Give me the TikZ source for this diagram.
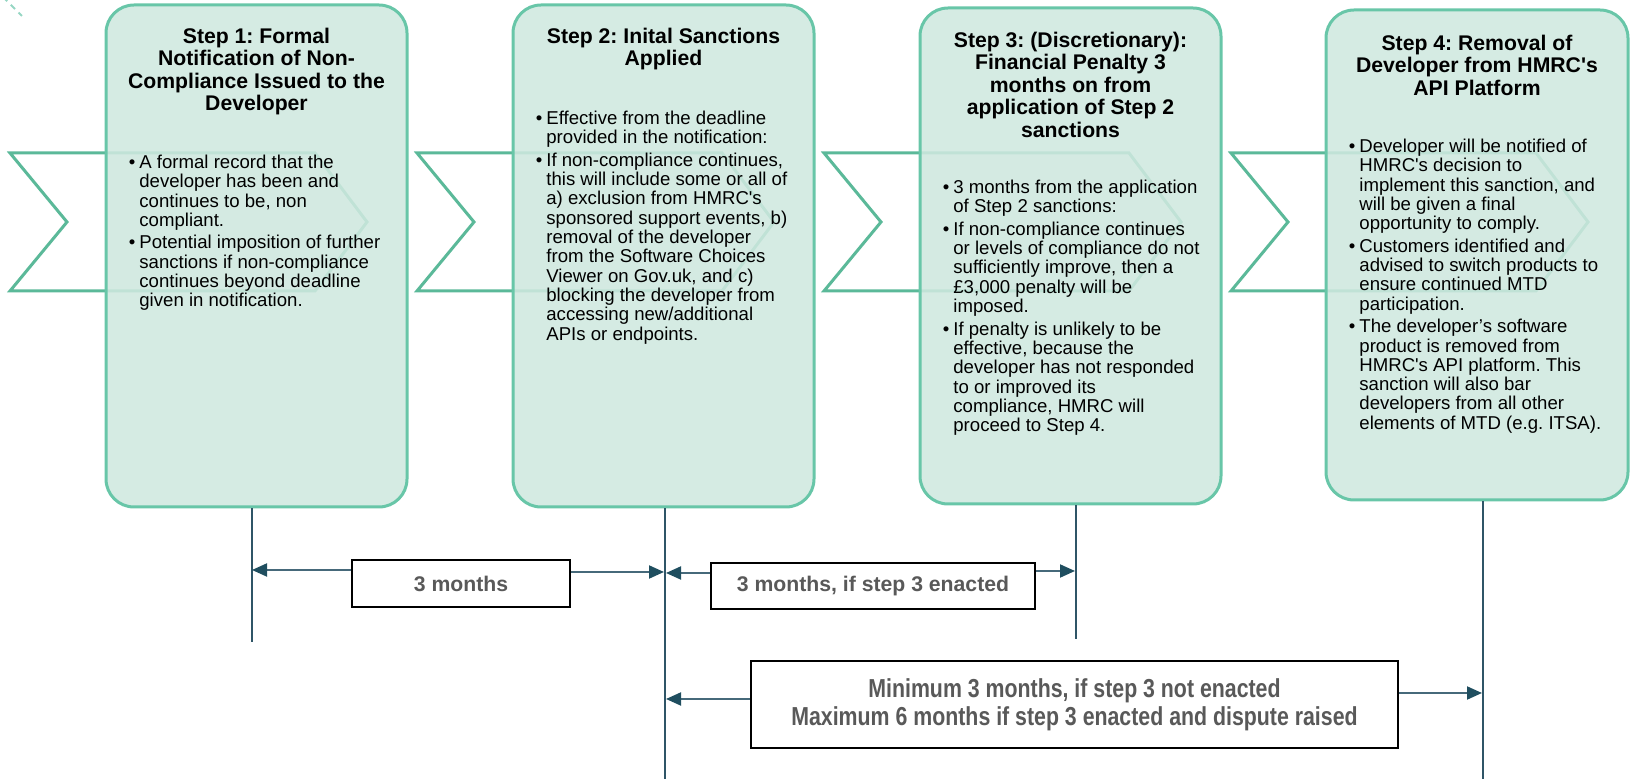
\documentclass[tikz,border=0pt]{standalone}
\usepackage{fontspec}
\setmainfont{Liberation Sans}
\newfontfamily\narrowfont[FakeStretch=0.82]{Liberation Sans}
\usetikzlibrary{arrows.meta,calc}
\definecolor{teal1}{RGB}{91,185,153}
\definecolor{tealb}{RGB}{104,198,168}
\definecolor{tealdash}{RGB}{150,214,195}
\definecolor{mintf}{RGB}{207,232,223}
\definecolor{navy}{RGB}{31,78,95}
\definecolor{shaft}{RGB}{70,105,122}
\definecolor{vline}{RGB}{47,85,103}
\definecolor{lblgray}{RGB}{89,89,89}
\newcommand\bul{\llap{•\hspace{2pt}}}
\newcommand\sq{\textquotesingle}
\begin{document}
\frenchspacing
\begin{tikzpicture}[x=0.5pt,y=-0.5pt,
  chev/.style={draw=teal1,line width=1.5pt,fill=white,line join=miter},
  stepbox/.style={draw=tealb,line width=1.5pt,fill=mintf,fill opacity=0.88,draw opacity=1,rounded corners=14pt,minimum width=150.5pt,inner sep=0pt},
  ttl/.style={anchor=north,inner sep=0pt,align=center,font=\fontsize{10.6pt}{11.25pt}\selectfont\bfseries\frenchspacing},
  bdy/.style={anchor=north west,inner sep=0pt,align=left,font=\fontsize{9.3pt}{9.65pt}\selectfont\frenchspacing},
  vl/.style={draw=vline,line width=0.8pt},
  arr/.style={draw=shaft,line width=1pt,-{Triangle[length=7.5pt,width=6.5pt,color=navy]}},
  lbl/.style={draw=black,line width=1.1pt,fill=white,inner sep=0pt,text=lblgray,font=\fontsize{10.6pt}{12pt}\selectfont\bfseries\frenchspacing},
]
\useasboundingbox (0,0) rectangle (1630,779);

% faint dashes top-left
\draw[tealdash,line width=1pt,dash pattern=on 3pt off 2.5pt] (3,-3) -- (22,16);

% chevrons
\foreach \sx in {10,417,824,1231}{
  \draw[chev] (\sx,153) -- (\sx+305,153) -- (\sx+357,222) -- (\sx+305,291) -- (\sx,291) -- (\sx+57,222) -- cycle;
}

% step boxes
\node[stepbox,minimum height=251pt] (b1) at (256.5,256) {};
\node[stepbox,minimum height=251pt] (b2) at (663.5,256) {};
\node[stepbox,minimum height=248pt] (b3) at (1070.5,256) {};
\node[stepbox,minimum width=151pt,minimum height=245pt] (b4) at (1477,255) {};

% titles
\node[ttl] (t1) at (256.5,27.25) {\strut Step 1: Formal\\Notification of Non-\\Compliance Issued to the\\Developer};
\node[ttl] (t2) at (663.5,27.25) {\strut Step 2: Inital Sanctions\\Applied};
\node[ttl] (t3) at (1070.5,31.25) {\strut Step 3: (Discretionary):\\Financial Penalty 3\\months on from\\application of Step 2\\sanctions};
\node[ttl] (t4) at (1477,34.25) {\strut Step 4: Removal of\\Developer from HMRC\sq s\\API Platform};

% bodies
\node[bdy] (d1) at (139,154.5) {\strut\bul A formal record that the\\developer has been and\\continues to be, non\\compliant.\\[1.65pt]
\bul Potential imposition of further\\sanctions if non-compliance\\continues beyond deadline\\given in notification.};
\node[bdy] (d2) at (546,110.5) {\strut\bul Effective from the deadline\\provided in the notification:\\[1.65pt]
\bul If non-compliance continues,\\this will include some or all of\\a) exclusion from HMRC\sq s\\sponsored support events, b)\\removal of the developer\\from the Software Choices\\Viewer on Gov.uk, and c)\\blocking the developer from\\accessing new/additional\\APIs or endpoints.};
\node[bdy] (d3) at (953,179.5) {\strut\bul 3 months from the application\\of Step 2 sanctions:\\[1.65pt]
\bul If non-compliance continues\\or levels of compliance do not\\sufficiently improve, then a\\£3,000 penalty will be\\imposed.\\[1.65pt]
\bul If penalty is unlikely to be\\effective, because the\\developer has not responded\\to or improved its\\compliance, HMRC will\\proceed to Step 4.};
\node[bdy] (d4) at (1359,138.5) {\strut\bul Developer will be notified of\\HMRC\sq s decision to\\implement this sanction, and\\will be given a final\\opportunity to comply.\\[1.65pt]
\bul Customers identified and\\advised to switch products to\\ensure continued MTD\\participation.\\[1.65pt]
\bul The developer’s software\\product is removed from\\HMRC\sq s API platform. This\\sanction will also bar\\developers from all other\\elements of MTD (e.g. ITSA).};

% vertical timeline lines
\coordinate (v1b) at (252,642);
\coordinate (v2b) at (665,779);
\coordinate (v3b) at (1076,639);
\coordinate (v4b) at (1483,779);
\draw[vl] (b1.south -| v1b) -- (v1b);
\draw[vl] (b2.south -| v2b) -- (v2b);
\draw[vl] (b3.south -| v3b) -- (v3b);
\draw[vl] (b4.south -| v4b) -- (v4b);

% labels
\node[lbl,minimum width=109pt,minimum height=23.5pt] (L1) at (461,583.5) {3 months};
\node[lbl,minimum width=162pt,minimum height=23pt] (L2) at (873,586) {3 months, if step 3 enacted};
\node[lbl,minimum width=323.5pt,minimum height=43.5pt,align=center,font=\fontsize{13pt}{14pt}\narrowfont\bfseries\frenchspacing] (L3) at (1074.5,704.5) {Minimum 3 months, if step 3 not enacted\\Maximum 6 months if step 3 enacted and dispute raised};

% arrow end points on timeline lines
\coordinate (a1l) at (252,570);
\coordinate (a1r) at (664,572);
\coordinate (a2l) at (666,573);
\coordinate (a2r) at (1075,571);
\coordinate (a3l) at (666,699);
\coordinate (a3r) at (1482,693);
\draw[arr] (L1.west |- a1l) -- (a1l);
\draw[arr] (L1.east |- a1r) -- (a1r);
\draw[arr] (L2.west |- a2l) -- (a2l);
\draw[arr] (L2.east |- a2r) -- (a2r);
\draw[arr] (L3.west |- a3l) -- (a3l);
\draw[arr] (L3.east |- a3r) -- (a3r);
\end{tikzpicture}
\end{document}
